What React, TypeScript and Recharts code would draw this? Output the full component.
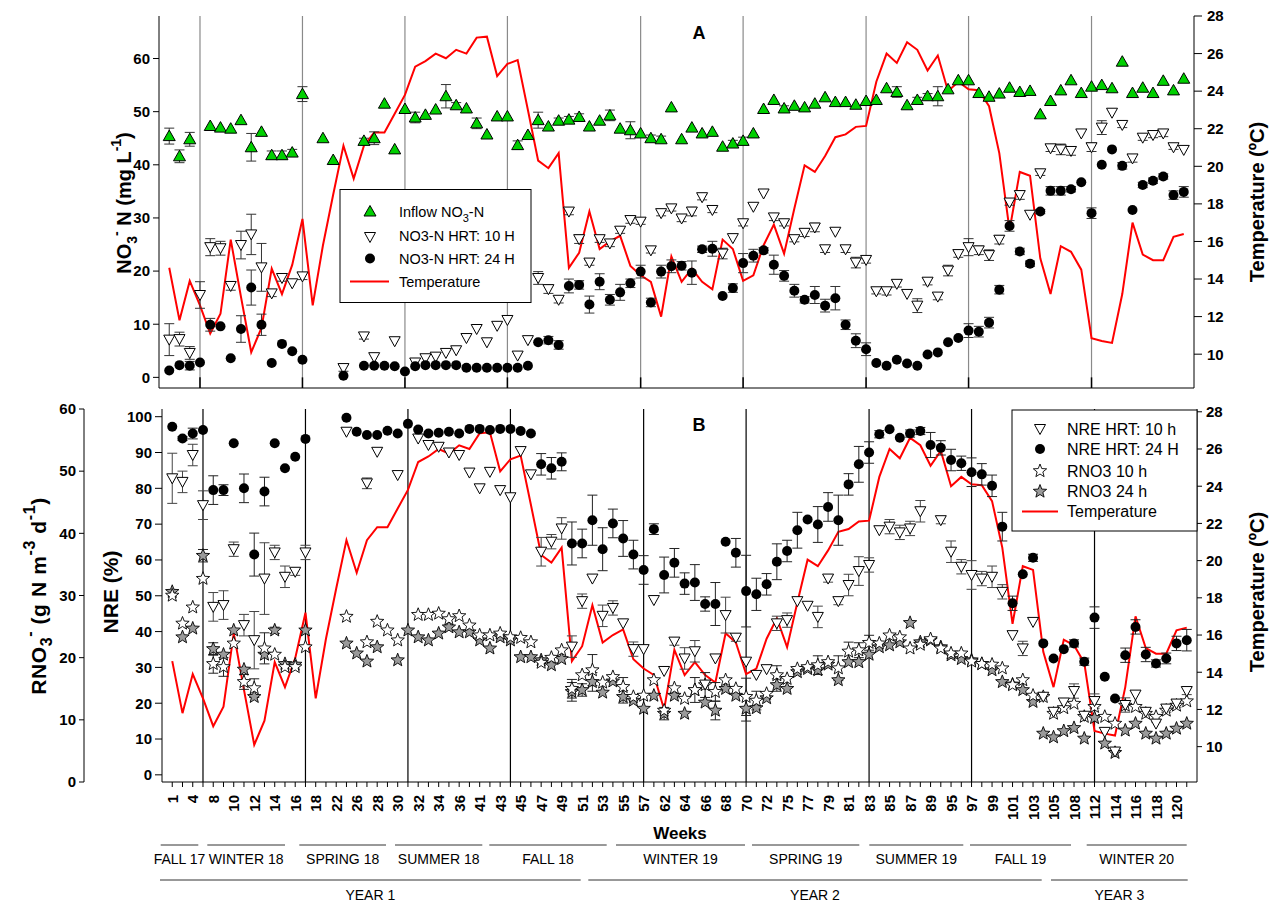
import React from "react";
import { ComposedChart, Line, Scatter, XAxis, YAxis, ReferenceLine, ErrorBar } from "recharts";

const FONT = "'Liberation Sans', Arial, Helvetica, sans-serif";

// samples are placed by index 0..99; every other sample carries its week number
const weekLabels = [
  "1", "4", "8", "10", "12", "14", "16", "18", "22", "26",
  "28", "30", "32", "34", "36", "41", "43", "45", "47", "49",
  "51", "53", "55", "57", "62", "64", "66", "68", "70", "72",
  "75", "77", "79", "81", "83", "85", "87", "89", "95", "97",
  "99", "101", "103", "105", "108", "112", "114", "116", "118", "120",
];
const seasonBreaks = [3, 13, 23, 33, 46, 56, 68, 78, 90];

// water temperature (ºC)
const temperature = [
  14.6, 11.8, 13.9, 12.6, 11.1, 12.15, 16.1, 13.05, 10.1, 11.4,
  14.55, 13.2, 14.75, 17.2, 12.6, 15.8, 18.5, 21.1, 19.35, 21.1,
  21.8, 21.8, 22.8, 23.8, 25.3, 25.6, 26.0, 25.75, 26.2, 26.0,
  26.85, 26.9, 24.8, 25.45, 25.65, 23.0, 20.3, 19.9, 20.7, 14.6,
  15.4, 17.6, 15.6, 16.0, 16.3, 14.7, 14.2, 13.85, 12.0, 15.2,
  13.85, 14.55, 13.85, 13.45, 16.1, 15.6, 13.9, 14.2, 15.8, 16.9,
  15.35, 17.75, 20.05, 19.7, 20.55, 21.55, 21.7, 22.1, 22.15, 24.5,
  26.0, 25.5, 26.6, 26.2, 25.1, 25.9, 24.0, 24.5, 24.1, 24.05,
  23.2, 20.7, 16.6, 19.7, 19.5, 15.1, 13.2, 15.75, 15.45, 14.5,
  10.85, 10.7, 10.6, 13.2, 17.0, 15.3, 15.0, 15.0, 16.25, 16.4,
];

// panel A: NO3-N (mg/L)
const inflowNO3 = [
  45.4, 41.6, 44.8, null, 47.3, 47.0, 46.8, 48.4, 43.3, 46.2,
  41.8, 41.8, 42.3, 53.3, null, 45.0, 40.9, null, null, 44.5,
  45.0, 51.5, 42.9, 50.5, 48.9, 49.4, 50.4, 52.9, 51.2, 50.6,
  47.8, 45.7, 49.1, 49.1, 43.7, 45.6, 48.4, 47.2, 48.3, 48.5,
  49.0, 47.2, 48.3, 49.3, 46.8, 46.5, 45.9, 45.0, 44.8, 50.8,
  44.8, 47.0, 45.9, 46.2, 43.4, 44.0, 44.5, 45.9, 50.5, 52.2,
  50.6, 51.1, 50.8, 51.5, 52.7, 51.8, 51.8, 51.3, 52.0, 52.2,
  54.4, 53.7, 51.2, 52.2, 52.9, 52.9, 54.2, 55.9, 55.9, 53.5,
  52.8, 53.4, 54.5, 53.7, 53.9, 49.5, 52.0, 54.0, 55.9, 53.5,
  54.7, 55.0, 54.4, 59.4, 53.5, 54.5, 53.5, 55.8, 54.0, 56.2,
];
const no3Hrt10 = [
  7.1, 7.2, 4.6, 15.5, 24.5, 24.3, 17.2, 24.9, 26.9, 20.7,
  15.8, 18.7, 17.7, 19.0, null, null, null, 1.75, null, 7.7,
  3.8, null, 6.8, null, 2.8, 3.6, 3.9, 4.6, 5.1, 7.4,
  9.1, 6.6, 9.7, 10.8, 4.1, 7.0, 18.7, 16.6, 14.6, 31.2,
  26.0, 21.6, 26.0, 25.2, 27.6, 29.6, 29.3, 23.9, 30.9, 31.8,
  29.9, 31.2, 33.9, 31.5, 23.3, 26.2, 29.0, 32.1, 34.6, 30.1,
  29.0, 26.0, 27.2, 28.2, 24.1, 27.4, 24.1, 21.6, 22.1, 16.2,
  16.2, 17.6, 15.7, 13.5, 18.0, 15.2, 20.1, 23.2, 24.5, 23.9,
  23.0, 25.9, 32.9, 34.3, 30.6, 38.4, 43.1, 42.9, 42.6, 45.9,
  43.3, 47.0, 49.8, 47.5, 41.2, 45.1, 45.6, 45.9, 43.3, 42.8,
];
const no3Hrt24 = [
  1.3, 2.3, 2.2, 2.8, 9.9, 9.6, 3.6, 9.1, 16.9, 9.9,
  2.7, 6.3, 4.9, 3.3, null, null, null, 0.3, null, 2.2,
  2.2, 2.2, 2.1, 1.1, 2.1, 2.3, 2.3, 2.3, 2.3, 1.8,
  1.8, 1.8, 1.8, 1.8, 1.8, 2.2, 6.6, 7.0, 6.1, 17.2,
  17.4, 13.7, 18.0, 14.6, 16.0, 17.7, 19.9, 14.1, 19.9, 20.9,
  21.0, 19.7, 24.1, 24.2, 15.3, 16.8, 21.5, 22.9, 23.9, 21.2,
  19.1, 16.3, 14.6, 15.5, 13.5, 14.9, 9.9, 6.9, 5.3, 2.7,
  2.2, 3.3, 2.6, 2.2, 4.3, 4.7, 6.6, 7.4, 8.8, 8.6,
  10.3, 16.5, 28.5, 23.7, 21.4, 31.2, 35.1, 35.1, 35.4, 36.7,
  30.9, 40.0, 42.9, 39.8, 31.5, 36.2, 37.0, 37.8, 34.3, 34.9,
];

// panel B: NRE (%) and removal rate RNO3 (g N m-3 d-1)
const nreHrt10 = [
  82.8, 81.8, 89.3, 75.3, 46.9, 47.4, 63.0, 41.8, 37.6, 54.8,
  62.1, 55.3, 56.7, 62.1, null, null, null, 95.8, null, 81.4,
  90.2, null, 83.7, null, 93.9, 92.1, 91.6, 90.0, 89.3, 84.4,
  80.0, 84.6, 79.5, 77.5, 90.4, 83.9, 62.3, 65.1, 68.8, 35.8,
  48.5, 54.8, 44.4, 46.6, 42.3, 35.1, 35.1, 48.8, 29.0, 37.2,
  32.5, 34.5, 25.2, 32.5, 44.6, 38.3, 31.6, 27.9, 29.5, 42.3,
  43.2, 48.5, 47.2, 44.1, 54.8, 48.5, 53.0, 56.9, 58.6, 68.3,
  69.3, 67.7, 68.8, 73.6, null, 71.1, 62.3, 58.1, 55.8, 54.8,
  55.3, 51.1, 39.0, 35.3, 42.7, 21.8, 17.6, 20.2, 23.4, 16.5,
  20.6, 12.0, 6.5, 19.5, 22.4, 17.6, 14.3, 18.5, 19.9, 23.4,
];
const nreHrt24 = [
  97.2, 93.9, 95.3, 96.3, 79.5, 79.5, 92.6, 80.0, 61.5, 79.1,
  92.6, 85.6, 88.8, 93.8, null, null, null, 99.7, 95.8, 94.9,
  94.9, 96.1, 95.3, 98.0, 96.4, 95.3, 95.5, 95.8, 95.3, 96.6,
  96.6, 96.3, 96.6, 96.6, 96.0, 95.3, 86.7, 85.6, 87.4, 64.6,
  64.6, 71.1, 63.0, 70.2, 66.0, 61.5, 57.2, 68.6, 55.8, 59.2,
  53.4, 53.7, 47.7, 47.7, 65.1, 62.0, 51.3, 50.4, 53.2, 59.5,
  62.5, 68.3, 71.3, 69.9, 74.8, 71.1, 81.1, 86.7, 90.0, 95.1,
  96.5, 94.1, 95.3, 96.0, 92.1, 91.3, 87.9, 87.0, 84.5, 83.9,
  80.7, 69.3, 47.9, 56.0, 60.6, 36.7, 32.5, 35.1, 36.7, 31.6,
  43.9, 27.4, 21.3, 33.4, 41.3, 33.6, 31.1, 32.5, 36.7, 37.6,
];
const rno3Hrt10 = [
  30.0, 25.5, 28.1, 32.7, 19.0, 18.5, 22.3, 16.1, 15.1, 21.5,
  20.5, 18.5, 18.5, 21.7, null, null, null, 26.6, null, 22.5,
  25.8, 24.4, 22.8, null, 26.9, 26.9, 27.1, 26.2, 26.7, 25.2,
  23.6, 23.6, 23.9, 23.3, 23.2, 22.5, 19.2, 20.0, 21.2, 15.0,
  17.2, 18.0, 16.0, 16.9, 15.3, 13.7, 13.9, 16.4, 11.5, 15.1,
  13.4, 14.8, 15.6, 14.5, 16.4, 15.0, 13.7, 13.1, 14.2, 17.2,
  16.6, 18.2, 18.5, 18.8, 19.3, 18.3, 21.0, 21.2, 22.4, 22.3,
  23.6, 23.3, 21.5, 22.1, 23.0, 21.5, 20.7, 20.7, 19.4, 19.0,
  18.9, 18.3, 15.6, 16.4, 13.9, 13.7, 11.0, 11.9, 12.6, 10.5,
  12.1, 10.5, 9.4, 12.3, 12.1, 11.0, 10.5, 11.5, 12.3, 13.0,
];
const rno3Hrt24 = [
  30.6, 23.3, 24.7, 36.4, 21.4, 20.5, 24.4, 18.1, 13.7, 20.5,
  24.4, 19.0, 18.9, 24.4, null, null, null, 22.3, 20.7, 19.4,
  21.7, null, 19.6, 24.4, 23.3, 22.8, 23.9, 24.9, 24.1, 24.1,
  22.8, 21.5, 23.3, 22.8, 20.1, 20.1, 19.6, 18.8, 19.8, 14.5,
  14.8, 16.1, 14.4, 16.2, 13.7, 13.1, 11.8, 13.9, 11.0, 13.9,
  11.0, 14.8, 12.8, 11.5, 15.0, 13.9, 11.8, 11.9, 13.5, 15.6,
  15.0, 17.7, 18.2, 18.0, 18.9, 16.4, 19.3, 19.3, 20.5, 21.7,
  22.0, 22.5, 25.6, 22.5, 22.8, 21.7, 20.4, 19.8, 19.6, 19.0,
  18.0, 16.1, 15.7, 14.8, 12.9, 7.8, 7.2, 8.2, 8.7, 7.0,
  10.3, 6.2, 4.7, 8.3, 9.4, 7.8, 7.0, 7.8, 8.6, 9.4,
];

// standard deviations as [sample index, sd]
const inflowErr: [number, number][] = [
  [0, 1.5], [1, 1.2], [2, 1.3], [8, 2.6], [10, 0.8], [11, 0.8], [12, 0.6], [13, 1.4],
  [19, 0.5], [20, 1.2], [24, 1.0], [27, 2.2], [28, 0.5], [30, 1.0], [34, 0.8], [36, 1.5],
  [38, 0.5], [39, 0.6], [40, 0.6], [43, 1.0], [45, 1.6], [47, 0.6], [48, 0.6], [55, 0.6],
  [56, 0.7], [60, 0.5], [71, 1.0], [73, 0.5], [74, 0.5], [75, 1.8],
];
const no3Hrt10Err: [number, number][] = [
  [0, 3.0], [1, 1.3], [2, 1.2], [3, 2.5], [4, 1.6], [5, 1.3], [6, 0.8], [7, 2.6], [8, 3.8],
  [9, 4.5], [10, 0.6], [11, 0.6], [13, 0.6], [17, 0.6], [19, 0.5], [36, 1.2], [37, 0.8],
  [38, 0.6], [39, 0.6], [40, 0.8], [41, 0.5], [42, 0.6], [43, 0.6], [44, 0.5], [45, 0.6],
  [46, 0.5], [47, 0.5], [48, 0.5], [49, 0.5], [50, 0.6], [51, 0.8], [52, 0.5], [53, 0.5],
  [54, 1.0], [56, 0.5], [59, 0.6], [60, 0.5], [61, 0.5], [62, 0.7], [63, 0.8], [64, 0.6],
  [66, 0.6], [67, 1.0], [68, 0.6], [69, 0.5], [70, 0.7], [71, 0.6], [73, 1.3], [74, 0.6],
  [75, 0.6], [76, 1.0], [77, 0.6], [78, 1.6], [79, 0.8], [80, 1.0], [81, 0.8], [82, 0.5],
  [83, 0.8], [85, 0.4], [86, 0.6], [87, 1.0], [88, 0.8], [90, 0.8], [91, 1.3], [93, 0.5],
  [94, 0.7], [95, 0.5], [96, 0.5], [97, 0.6], [98, 0.4],
];
const no3Hrt24Err: [number, number][] = [
  [2, 0.8], [4, 1.2], [7, 2.5], [8, 3.3], [9, 2.0], [37, 0.7], [38, 0.8], [39, 1.3],
  [40, 0.8], [41, 1.6], [42, 1.5], [43, 1.0], [44, 1.5], [45, 0.8], [46, 1.2], [47, 0.8],
  [48, 1.2], [49, 1.2], [50, 0.8], [51, 2.2], [52, 0.6], [53, 1.4], [55, 0.8], [56, 1.8],
  [57, 1.2], [58, 0.5], [59, 1.8], [60, 1.0], [61, 1.2], [62, 0.6], [63, 1.6], [64, 1.2],
  [65, 2.2], [66, 0.9], [67, 1.3], [68, 1.2], [78, 1.3], [79, 1.0], [80, 1.0], [81, 0.8],
  [82, 1.0], [83, 0.6], [84, 0.5], [85, 0.4], [86, 0.8], [87, 0.8], [88, 0.5], [90, 1.0],
  [93, 0.6], [95, 0.5], [96, 0.5], [97, 0.5], [98, 0.8], [99, 1.0],
];
const nreHrt10Err: [number, number][] = [
  [0, 7], [1, 3], [2, 3], [3, 4], [4, 4], [5, 4], [6, 2], [7, 3], [8, 8], [9, 10], [10, 2],
  [11, 3], [12, 1], [13, 2], [19, 1.5], [36, 4], [37, 2], [38, 3], [39, 3], [40, 2], [42, 3],
  [43, 2], [45, 2], [49, 1], [50, 3], [51, 3], [54, 5], [55, 1], [59, 2], [60, 2], [63, 3],
  [64, 1], [65, 1], [66, 3], [67, 4], [68, 2], [70, 2], [71, 2], [72, 2], [73, 3], [75, 1],
  [76, 3], [77, 2], [78, 4], [79, 2], [80, 3], [81, 2], [83, 2], [88, 2], [90, 2], [93, 2],
  [97, 1], [98, 1], [99, 1],
];
const nreHrt24Err: [number, number][] = [
  [1, 0.5], [2, 1.5], [4, 4], [5, 1.5], [7, 4], [8, 6], [9, 4], [36, 3], [37, 3], [38, 2.5],
  [39, 6], [40, 4], [41, 7], [42, 6], [43, 4], [44, 5], [45, 4], [46, 4], [47, 1.5], [48, 5],
  [49, 4], [50, 3], [51, 5], [52, 2], [53, 6], [55, 4], [56, 10], [57, 4.5], [58, 3], [59, 5],
  [60, 3], [61, 5], [63, 5], [64, 4], [65, 7], [66, 3], [67, 5], [68, 3], [69, 1], [72, 1],
  [73, 1], [74, 3.5], [75, 2], [76, 3], [77, 2], [78, 4], [79, 3], [80, 3], [81, 4], [82, 2],
  [84, 1], [88, 1], [89, 1], [90, 3], [93, 2], [94, 2], [95, 2], [96, 1], [97, 1.5], [98, 2],
  [99, 3],
];
const rno3Hrt10Err: [number, number][] = [
  [4, 1.5], [5, 1.5], [7, 1.2], [8, 1.5], [9, 2.5], [39, 1.5], [41, 2.5], [44, 1.5], [51, 2],
  [52, 2], [53, 1.5], [56, 3], [57, 1.5], [59, 1.5], [63, 1.5], [65, 2], [66, 1.5], [67, 1.2],
  [68, 1.2],
];
const rno3Hrt24Err: [number, number][] = [
  [3, 1], [4, 1], [10, 0.5], [39, 1.5], [40, 1], [41, 1.5], [44, 1], [48, 1], [53, 1.5],
  [56, 2], [59, 1],
];

// season and year bands under the week axis
const seasons = [
  { name: "FALL 17", from: 160.7, to: 198.3 },
  { name: "WINTER 18", from: 207.3, to: 285 },
  { name: "SPRING 18", from: 299.3, to: 386 },
  { name: "SUMMER 18", from: 395, to: 482.3 },
  { name: "FALL 18", from: 489.3, to: 606.7 },
  { name: "WINTER 19", from: 616, to: 745 },
  { name: "SPRING 19", from: 752, to: 859.3 },
  { name: "SUMMER 19", from: 869.3, to: 963.3 },
  { name: "FALL 19", from: 970, to: 1071 },
  { name: "WINTER 20", from: 1086.7, to: 1186.7 },
];
const years = [
  { name: "YEAR 1", from: 160, to: 580.7 },
  { name: "YEAR 2", from: 588.3, to: 1041.7 },
  { name: "YEAR 3", from: 1051, to: 1187.7 },
];

type Pt = { x: number; y: number; e?: number };

const toPoints = (vals: (number | null)[], errs: [number, number][] = []): Pt[] => {
  const em = new Map(errs);
  const out: Pt[] = [];
  vals.forEach((v, i) => {
    if (v != null) out.push({ x: i, y: v, e: em.get(i) });
  });
  return out;
};

const tempRows = temperature.map((t, i) => ({ x: i, temp: t }));
const allIdx = temperature.map((_, i) => i);

const starPts = (cx: number, cy: number, R = 7, r = 3) => {
  const pts: string[] = [];
  for (let k = 0; k < 10; k++) {
    const a = -Math.PI / 2 + (k * Math.PI) / 5;
    const rad = k % 2 ? r : R;
    pts.push(`${cx + rad * Math.cos(a)},${cy + rad * Math.sin(a)}`);
  }
  return pts.join(" ");
};

const UpTri = ({ cx, cy }: any) => (
  <polygon points={`${cx},${cy - 6} ${cx + 6},${cy + 4.5} ${cx - 6},${cy + 4.5}`} fill="#00d000" stroke="#000" strokeWidth={1} />
);
const DownTri = ({ cx, cy }: any) => (
  <polygon points={`${cx - 5.5},${cy - 4.5} ${cx + 5.5},${cy - 4.5} ${cx},${cy + 5.5}`} fill="#fff" stroke="#000" strokeWidth={1} />
);
const Dot = ({ cx, cy }: any) => <circle cx={cx} cy={cy} r={5} fill="#000" />;
const WhiteStar = ({ cx, cy }: any) => <polygon points={starPts(cx, cy)} fill="#fff" stroke="#000" strokeWidth={0.9} />;
const GrayStar = ({ cx, cy }: any) => <polygon points={starPts(cx, cy)} fill="#9a9a9a" stroke="#000" strokeWidth={0.9} />;

const tickStyle = { fontSize: 15, fontWeight: 700, fill: "#000", fontFamily: FONT };
const axisLine = { stroke: "#000", strokeWidth: 1 };

const XTick = ({ x, y, payload }: any) => {
  const i = payload.value as number;
  if (i % 2 !== 0) return <g />;
  return (
    <g transform={`translate(${x},${y + 6})`}>
      <text transform="rotate(-90)" textAnchor="end" dominantBaseline="central" style={tickStyle}>
        {weekLabels[i / 2]}
      </text>
    </g>
  );
};

const bars = (stroke: string) => (
  <ErrorBar dataKey="e" direction="y" width={5} stroke={stroke} strokeWidth={1} isAnimationActive={false} />
);

const PanelA = () => (
  <ComposedChart width={1280} height={395} data={tempRows} margin={{ top: 16, right: 0, bottom: 0, left: 0 }}>
    <XAxis dataKey="x" type="number" domain={[-1, 100]} allowDataOverflow ticks={[]} tick={false} tickLine={false} height={7} axisLine={axisLine} />
    <XAxis xAxisId="top" orientation="top" dataKey="x" type="number" domain={[-1, 100]} allowDataOverflow tick={false} tickLine={false} height={0} axisLine={axisLine} />
    <YAxis yAxisId="n" width={159} domain={[-2, 68]} allowDataOverflow ticks={[0, 10, 20, 30, 40, 50, 60]} tick={tickStyle} tickSize={6} tickMargin={3} axisLine={axisLine} tickLine={axisLine} />
    <YAxis yAxisId="t" orientation="right" width={86} domain={[8.2, 28]} allowDataOverflow ticks={[10, 12, 14, 16, 18, 20, 22, 24, 26, 28]} tick={tickStyle} tickSize={8} tickMargin={5} axisLine={axisLine} tickLine={axisLine} />
    {seasonBreaks.map((b) => (
      <ReferenceLine key={`g${b}`} yAxisId="n" x={b} stroke="#8a8a8a" strokeWidth={1.2} />
    ))}
    {seasonBreaks.map((b) => (
      <ReferenceLine key={`k${b}`} yAxisId="n" segment={[{ x: b, y: -2 }, { x: b, y: 0 }]} stroke="#000" strokeWidth={1.5} />
    ))}
    <Line yAxisId="t" dataKey="temp" stroke="#ff0000" strokeWidth={2} dot={false} activeDot={false} isAnimationActive={false} />
    <Scatter yAxisId="n" data={toPoints(inflowNO3, inflowErr)} dataKey="y" shape={UpTri} isAnimationActive={false}>
      {bars("#333")}
    </Scatter>
    <Scatter yAxisId="n" data={toPoints(no3Hrt10, no3Hrt10Err)} dataKey="y" shape={DownTri} isAnimationActive={false}>
      {bars("#333")}
    </Scatter>
    <Scatter yAxisId="n" data={toPoints(no3Hrt24, no3Hrt24Err)} dataKey="y" shape={Dot} isAnimationActive={false}>
      {bars("#333")}
    </Scatter>
  </ComposedChart>
);

const PanelB = () => (
  <ComposedChart width={1280} height={445} data={tempRows} margin={{ top: 14, right: 0, bottom: 0, left: 0 }}>
    <XAxis dataKey="x" type="number" domain={[-1, 100]} allowDataOverflow ticks={allIdx} interval={0} tick={<XTick />} tickSize={5} height={58} axisLine={axisLine} tickLine={axisLine} />
    <XAxis xAxisId="top" orientation="top" dataKey="x" type="number" domain={[-1, 100]} allowDataOverflow tick={false} tickLine={false} height={0} axisLine={axisLine} />
    <YAxis yAxisId="nre" width={78} domain={[-2, 102.15]} allowDataOverflow ticks={[0, 10, 20, 30, 40, 50, 60, 70, 80, 90, 100]} tick={tickStyle} tickSize={7} tickMargin={3} axisLine={axisLine} tickLine={axisLine} />
    <YAxis yAxisId="r" width={84} domain={[0, 60]} allowDataOverflow ticks={[0, 10, 20, 30, 40, 50, 60]} tick={tickStyle} tickSize={5} tickMargin={3} axisLine={axisLine} tickLine={axisLine} />
    <YAxis yAxisId="t" orientation="right" width={83} domain={[8.1, 28.15]} allowDataOverflow ticks={[10, 12, 14, 16, 18, 20, 22, 24, 26, 28]} tick={tickStyle} tickSize={5} tickMargin={4} axisLine={axisLine} tickLine={axisLine} />
    {seasonBreaks.map((b) => (
      <ReferenceLine key={b} yAxisId="nre" x={b} stroke="#000" strokeWidth={1.2} />
    ))}
    <Line yAxisId="t" dataKey="temp" stroke="#ff0000" strokeWidth={2} dot={false} activeDot={false} isAnimationActive={false} />
    <Scatter yAxisId="r" data={toPoints(rno3Hrt24, rno3Hrt24Err)} dataKey="y" shape={GrayStar} isAnimationActive={false}>
      {bars("#222")}
    </Scatter>
    <Scatter yAxisId="r" data={toPoints(rno3Hrt10, rno3Hrt10Err)} dataKey="y" shape={WhiteStar} isAnimationActive={false}>
      {bars("#222")}
    </Scatter>
    <Scatter yAxisId="nre" data={toPoints(nreHrt10, nreHrt10Err)} dataKey="y" shape={DownTri} isAnimationActive={false}>
      {bars("#444")}
    </Scatter>
    <Scatter yAxisId="nre" data={toPoints(nreHrt24, nreHrt24Err)} dataKey="y" shape={Dot} isAnimationActive={false}>
      {bars("#222")}
    </Scatter>
  </ComposedChart>
);

const titleStyle = { fontSize: 20, fontWeight: 700, fontFamily: FONT, fill: "#000" };
const legendText = { fontFamily: FONT, fill: "#000" };
const SUP = 14;

const Overlay = () => (
  <svg width={1280} height={902} style={{ position: "absolute", left: 0, top: 0, pointerEvents: "none" }}>
    {/* panel letters */}
    <text x={699} y={33} textAnchor="middle" dominantBaseline="central" style={{ ...titleStyle, fontSize: 18 }}>A</text>
    <text x={699} y={425} textAnchor="middle" dominantBaseline="central" style={{ ...titleStyle, fontSize: 18 }}>B</text>

    {/* axis titles */}
    <text transform="translate(124,203) rotate(-90)" textAnchor="middle" dominantBaseline="central" style={titleStyle}>
      NO<tspan baselineShift="sub" fontSize={SUP}>3</tspan>
      <tspan baselineShift="super" fontSize={SUP}>-</tspan> N (mg L<tspan baselineShift="super" fontSize={SUP}>-1</tspan>)
    </text>
    <text transform="translate(1257,202) rotate(-90)" textAnchor="middle" dominantBaseline="central" style={titleStyle}>
      Temperature (ºC)
    </text>
    <text transform="translate(38,596) rotate(-90)" textAnchor="middle" dominantBaseline="central" style={{ ...titleStyle, fontSize: 21, letterSpacing: 0.6 }}>
      RNO<tspan baselineShift="sub" fontSize={16}>3</tspan>
      <tspan baselineShift="super" fontSize={16}>-</tspan> (g N m<tspan baselineShift="super" fontSize={16}>-3</tspan> d
      <tspan baselineShift="super" fontSize={16}>-1</tspan>)
    </text>
    <text transform="translate(110,592) rotate(-90)" textAnchor="middle" dominantBaseline="central" style={{ ...titleStyle, fontSize: 21 }}>
      NRE (%)
    </text>
    <text transform="translate(1257,592) rotate(-90)" textAnchor="middle" dominantBaseline="central" style={titleStyle}>
      Temperature (ºC)
    </text>
    <text x={680} y={833} textAnchor="middle" dominantBaseline="central" style={{ ...titleStyle, fontSize: 17 }}>Weeks</text>

    {/* seasons and years */}
    {seasons.map((s) => (
      <g key={s.name}>
        <line x1={s.from} x2={s.to} y1={845} y2={845} stroke="#333" strokeWidth={1} />
        <text x={(s.from + s.to) / 2} y={859} textAnchor="middle" dominantBaseline="central" style={{ fontFamily: FONT, fontSize: 14, fill: "#000" }}>
          {s.name}
        </text>
      </g>
    ))}
    {years.map((s) => (
      <g key={s.name}>
        <line x1={s.from} x2={s.to} y1={880} y2={880} stroke="#333" strokeWidth={1} />
        <text x={(s.from + s.to) / 2} y={895} textAnchor="middle" dominantBaseline="central" style={{ fontFamily: FONT, fontSize: 14, fill: "#000" }}>
          {s.name}
        </text>
      </g>
    ))}

    {/* legend, panel A */}
    <rect x={340} y={189.5} width={191} height={113} fill="#fff" stroke="#000" strokeWidth={1} />
    <UpTri cx={370} cy={211.5} />
    <text x={399} y={211.5} dominantBaseline="central" style={{ ...legendText, fontSize: 14.5 }}>
      Inflow  NO<tspan baselineShift="sub" fontSize={11}>3</tspan>-N
    </text>
    <DownTri cx={370} cy={237} />
    <text x={399} y={236} dominantBaseline="central" style={{ ...legendText, fontSize: 14.5 }}>NO3-N HRT: 10 H</text>
    <Dot cx={370} cy={258.5} />
    <text x={399} y={258.5} dominantBaseline="central" style={{ ...legendText, fontSize: 14.5 }}>NO3-N HRT: 24 H</text>
    <line x1={350} x2={389} y1={281.5} y2={281.5} stroke="#ff0000" strokeWidth={2} />
    <text x={399} y={281.5} dominantBaseline="central" style={{ ...legendText, fontSize: 14.5 }}>Temperature</text>

    {/* legend, panel B */}
    <rect x={1012} y={410} width={185} height={121} fill="#fff" stroke="#000" strokeWidth={1} />
    <DownTri cx={1040} cy={429} />
    <text x={1067} y={429} dominantBaseline="central" style={{ ...legendText, fontSize: 16 }}>NRE HRT: 10 h</text>
    <Dot cx={1040} cy={449} />
    <text x={1067} y={449} dominantBaseline="central" style={{ ...legendText, fontSize: 16 }}>NRE HRT: 24 H</text>
    <WhiteStar cx={1040} cy={471} />
    <text x={1067} y={471} dominantBaseline="central" style={{ ...legendText, fontSize: 16 }}>RNO3 10 h</text>
    <GrayStar cx={1040} cy={491.5} />
    <text x={1067} y={491.5} dominantBaseline="central" style={{ ...legendText, fontSize: 16 }}>RNO3 24 h</text>
    <line x1={1022} x2={1058} y1={511.5} y2={511.5} stroke="#ff0000" strokeWidth={2} />
    <text x={1067} y={511.5} dominantBaseline="central" style={{ ...legendText, fontSize: 16 }}>Temperature</text>
  </svg>
);

export default function App() {
  return (
    <div style={{ position: "absolute", left: 0, top: 0, width: 1280, height: 902, background: "#fff", overflow: "hidden", fontFamily: FONT }}>
      <div style={{ position: "absolute", left: 0, top: 0 }}>
        <PanelA />
      </div>
      <div style={{ position: "absolute", left: 0, top: 395 }}>
        <PanelB />
      </div>
      <Overlay />
    </div>
  );
}
